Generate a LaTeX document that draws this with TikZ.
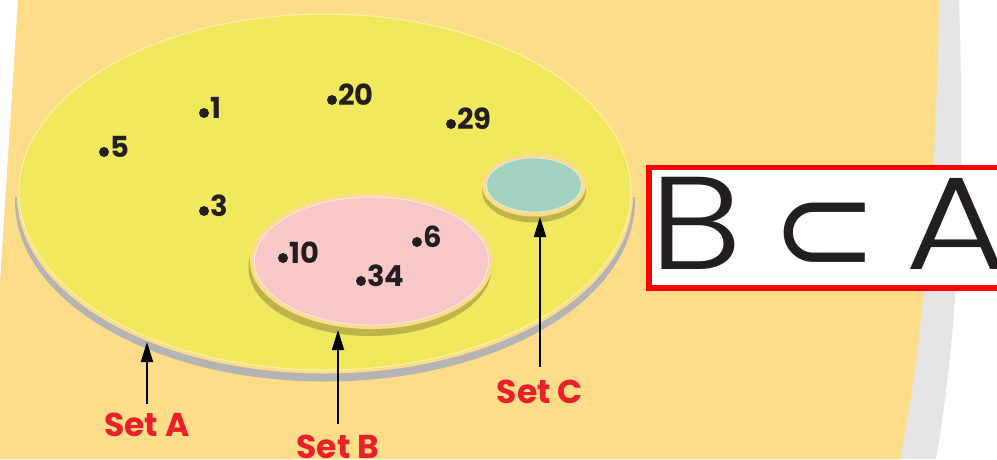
\documentclass[tikz,border=0pt]{standalone}
\usepackage{fontspec}
\setmainfont{Poppins}
\IfFontExistsTF{Poppins Light}{\newfontfamily\thinfont{Poppins Light}}{\newfontfamily\thinfont{Poppins}}
\newfontfamily\symfont{DejaVu Sans}
\usetikzlibrary{arrows.meta}
\definecolor{bgpeach}{HTML}{FDDD8A}
\definecolor{setyellow}{HTML}{F0E95E}
\definecolor{edgelight}{HTML}{FBF4A8}
\definecolor{shadowgray}{HTML}{B4B4B4}
\definecolor{pagegray}{HTML}{E5E5E5}
\definecolor{pinkfill}{HTML}{F9C8C8}
\definecolor{tealfill}{HTML}{A1D3C0}
\definecolor{olive}{HTML}{BDB54C}
\definecolor{labelred}{HTML}{E8202A}
\definecolor{boxred}{HTML}{FF0000}
\definecolor{ink}{HTML}{231F20}
\begin{document}
\begin{tikzpicture}[x=1pt,y=-1pt,
  numtext/.style={font=\fontsize{29}{29}\selectfont\bfseries, text=ink, inner sep=0pt, anchor=base west},
  setlabel/.style={font=\fontsize{33}{33}\selectfont\bfseries, text=labelred, inner sep=0pt, anchor=base},
  pointer/.style={-{Triangle[length=20pt,width=12pt]}, line width=2pt, black},
  dotmark/.style={circle, fill=ink, inner sep=0pt, minimum size=10pt},
  bigglyph/.style={text=ink, inner sep=0pt}
]
\useasboundingbox (0,0) rectangle (997,459);
\clip (0,0) rectangle (997,459);
\fill[white] (0,0) rectangle (997,459);
% page edge
\fill[pagegray] (900,0) -- (959,0) .. controls (966,200) and (955,350) .. (936,459) -- (880,459) -- cycle;
\fill[bgpeach] (18,0) -- (939,0) .. controls (937,150) and (926,330) .. (900,459) -- (0,459) -- (0,283) -- cycle;

% Set A
\begin{scope}
  \clip (0,197) rectangle (997,459);
  \fill[shadowgray] (325,201) ellipse [x radius=310, y radius=180.5];
  \fill[bgpeach] (325,195.5) ellipse [x radius=308, y radius=178];
\end{scope}
\fill[setyellow] (325,192) ellipse [x radius=306, y radius=178];
\draw[edgelight, line width=1pt] (325,192) ellipse [x radius=306, y radius=178];

% Set B
\fill[olive] (370,268) ellipse [x radius=121.5, y radius=68];
\fill[bgpeach] (371.5,261) ellipse [x radius=121.5, y radius=68];
\fill[pinkfill] (371.5,261) ellipse [x radius=117, y radius=64];
\draw[white!60!pinkfill, line width=0.8pt] (371.5,261) ellipse [x radius=117, y radius=64];

% Set C
\fill[olive] (534,191) ellipse [x radius=52, y radius=31.5];
\fill[bgpeach] (534,185) ellipse [x radius=52, y radius=31.5];
\fill[tealfill] (534,185) ellipse [x radius=47.5, y radius=27];
\draw[white!60!tealfill, line width=0.8pt] (534,185) ellipse [x radius=47.5, y radius=27];

% elements
\foreach \px/\py/\t in {104/152/5, 204/113/1, 204/211/3, 332/100/20, 451/124/29, 283/258/10, 361/281/34, 417/242/6}{
  \node[dotmark] (dot\t) at (\px,\py) {};
  \node[numtext] (num\t) at (\px+6,\py+5) {\t};
}

% labels and pointers
\node[setlabel] (labelA) at (147,436) {Set A};
\node[setlabel] (labelB) at (338,458) {Set B};
\node[setlabel] (labelC) at (540,403) {Set C};
\coordinate (tailA) at (147,404);
\coordinate (tipA) at (147,342);
\coordinate (tailB) at (338,424);
\coordinate (tipB) at (338,330);
\coordinate (tailC) at (540,367);
\coordinate (tipC) at (540,217);
\draw[pointer] (tailA) -- (tipA);
\draw[pointer] (tailB) -- (tipB);
\draw[pointer] (tailC) -- (tipC);

% relation box
\node[draw=boxred, line width=5.5pt, fill=white, minimum width=364pt, minimum height=120.5pt, anchor=north west, inner sep=0pt] (relbox) at (646,164.5) {};
\node[bigglyph, font=\thinfont\fontsize{132}{132}\selectfont, anchor=base west] (letterB) at (649,269) {\scalebox{1.18}[1]{B}};
\node[bigglyph, font=\symfont\fontsize{127}{127}\selectfont, anchor=base] (subsetsym) at (824.5,272) {⊂};
\node[bigglyph, font=\thinfont\fontsize{132}{132}\selectfont, anchor=base west] (letterA) at (905,269) {\scalebox{1.18}[1]{A}};
\end{tikzpicture}
\end{document}
